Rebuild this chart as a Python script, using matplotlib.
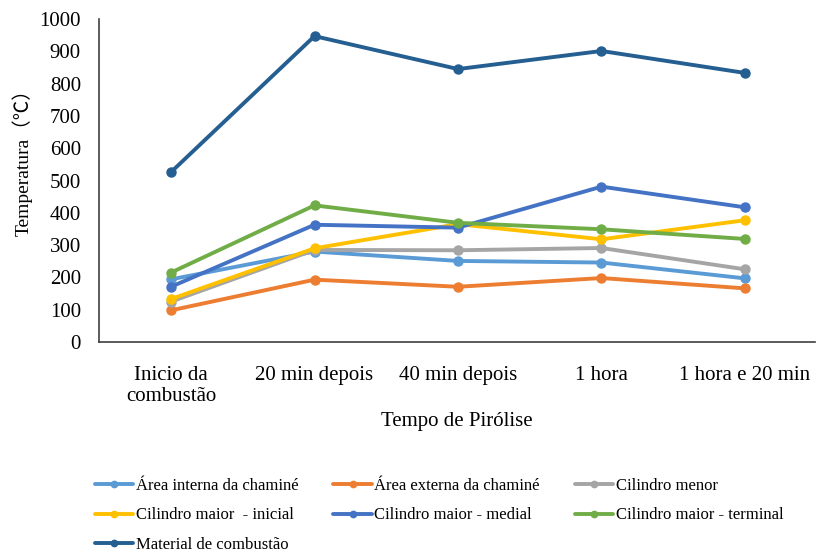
"""Temperatura ao longo da pirólise — recriação do gráfico de linhas."""
import matplotlib
matplotlib.use("Agg")
import matplotlib.pyplot as plt

plt.rcParams["font.family"] = ["Liberation Serif", "Noto Sans CJK JP", "DejaVu Sans"]

categorias = ["Inicio da\ncombustão", "20 min depois", "40 min depois",
              "1 hora", "1 hora e 20 min"]

area_interna = [194, 280, 251, 246, 197]
area_externa = [98, 193, 171, 198, 166]
cilindro_menor = [125, 285, 284, 291, 225]
cil_maior_inicial = [133, 290, 365, 318, 377]
cil_maior_medial = [171, 363, 354, 481, 417]
cil_maior_terminal = [215, 423, 369, 349, 319]
material_combustao = [526, 947, 845, 901, 833]

nomes = ["Área interna da chaminé", "Área externa da chaminé", "Cilindro menor",
         "Cilindro maior  - inicial", "Cilindro maior - medial",
         "Cilindro maior - terminal", "Material de combustão"]
series = [area_interna, area_externa, cilindro_menor, cil_maior_inicial,
          cil_maior_medial, cil_maior_terminal, material_combustao]
cores = ["#5B9BD5", "#ED7D31", "#A5A5A5", "#FFC000", "#4472C4", "#70AD47", "#255E91"]

fig = plt.figure(figsize=(8.17, 5.53), dpi=100)
ax = fig.add_axes([99 / 817, 1 - 342 / 553, (815 - 99) / 817, (342 - 19) / 553])

x = list(range(len(categorias)))
linhas = []
for nome, vals, cor in zip(nomes, series, cores):
    (ln,) = ax.plot(x, vals, color=cor, linewidth=2.8, marker="o",
                    markersize=6.5, label=nome, solid_capstyle="round")
    linhas.append(ln)

ax.set_ylim(0, 1000)
ax.set_yticks(range(0, 1001, 100))
ax.set_xlim(-0.502, 4.488)
ax.set_xticks(x)
ax.set_xticklabels(categorias, fontsize=15, linespacing=1.2)
ax.tick_params(axis="y", labelsize=15, length=0, pad=13)
ax.tick_params(axis="x", length=0, pad=17)

for lado in ("top", "right"):
    ax.spines[lado].set_visible(False)
for lado in ("left", "bottom"):
    ax.spines[lado].set_color("#404040")
    ax.spines[lado].set_linewidth(1.2)

ax.set_xlabel("Tempo de Pirólise", fontsize=15, labelpad=4)
ax.set_ylabel("Temperatura（℃）", fontsize=14)
ax.yaxis.set_label_coords(-0.092, 0.57)

# ordem para preencher a legenda por linhas (3 colunas)
ordem = [0, 3, 6, 1, 4, 2, 5]
fig.legend([linhas[i] for i in ordem], [nomes[i] for i in ordem],
           loc="upper left", bbox_to_anchor=(95 / 817, 1 - 478 / 553),
           ncol=3, frameon=False, fontsize=12, borderpad=0, borderaxespad=0,
           handlelength=2.3, handletextpad=0.15, columnspacing=2.1,
           labelspacing=0.8, markerscale=0.7)

fig.savefig("out.png", dpi=100)
